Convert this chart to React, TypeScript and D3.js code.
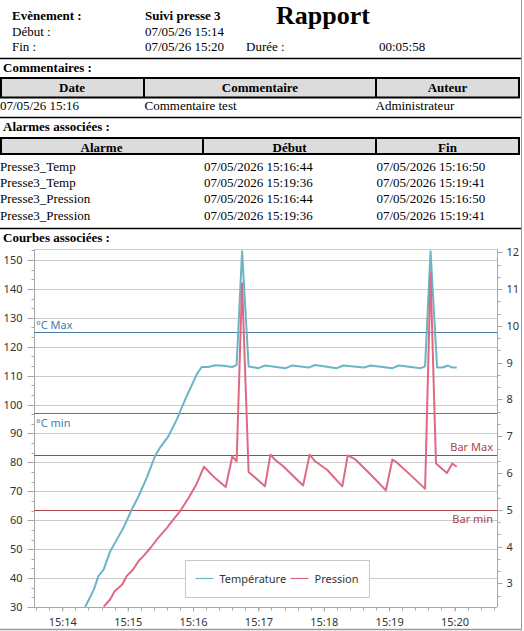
import { useEffect, useRef } from 'react';
import * as d3 from 'd3';

// Report day (07/05/26)
const DAY = '2026-05-07T';

// Header fields
const eventName = 'Suivi presse 3';
const startStamp = '07/05/26 15:14';
const endStamp = '07/05/26 15:20';
const duration = '00:05:58';

// Comments table
const commentDates = ['07/05/26 15:16'];
const commentTexts = ['Commentaire test'];
const commentAuthors = ['Administrateur'];

// Alarms table
const alarmNames = ['Presse3_Temp', 'Presse3_Temp', 'Presse3_Pression', 'Presse3_Pression'];
const alarmStarts = ['07/05/2026 15:16:44', '07/05/2026 15:19:36', '07/05/2026 15:16:44', '07/05/2026 15:19:36'];
const alarmEnds = ['07/05/2026 15:16:50', '07/05/2026 15:19:41', '07/05/2026 15:16:50', '07/05/2026 15:19:41'];

// Température (°C, left axis)
const tempTimes = [
  '15:14:21', '15:14:29', '15:14:33', '15:14:38', '15:14:44', '15:14:50', '15:14:56',
  '15:15:04', '15:15:10', '15:15:18', '15:15:25', '15:15:30', '15:15:37', '15:15:45',
  '15:15:54', '15:16:04', '15:16:08', '15:16:14', '15:16:20', '15:16:28', '15:16:36',
  '15:16:40', '15:16:45', '15:16:51', '15:17:00', '15:17:06', '15:17:25', '15:17:31',
  '15:17:46', '15:17:52', '15:18:12', '15:18:18', '15:18:37', '15:18:43', '15:19:03',
  '15:19:09', '15:19:29', '15:19:33', '15:19:38', '15:19:44', '15:19:49', '15:19:54',
  '15:19:58', '15:20:02',
];
const tempValues = [
  30.0, 36.1, 40.6, 43.0, 49.3, 53.3, 57.3,
  63.9, 68.3, 75.2, 82.1, 85.3, 88.8, 94.8,
  102.8, 110.9, 113.0, 113.0, 113.6, 113.4, 113.0,
  113.7, 153.0, 113.2, 112.6, 113.5, 112.6, 113.5,
  112.8, 113.7, 112.6, 113.5, 112.8, 113.5, 112.6,
  113.5, 112.6, 113.2, 153.0, 112.8, 112.8, 113.5,
  112.8, 112.8,
];

// Pression (bar, right axis)
const pressTimes = [
  '15:14:38', '15:14:44', '15:14:48', '15:14:55', '15:14:59', '15:15:05', '15:15:10',
  '15:15:14', '15:15:21', '15:15:28', '15:15:36', '15:15:42', '15:15:48', '15:15:56',
  '15:16:03', '15:16:10', '15:16:20', '15:16:30', '15:16:36', '15:16:40', '15:16:45',
  '15:16:51', '15:17:06', '15:17:11', '15:17:15', '15:17:23', '15:17:41', '15:17:47',
  '15:17:52', '15:18:03', '15:18:17', '15:18:22', '15:18:29', '15:18:43', '15:18:57',
  '15:19:03', '15:19:07', '15:19:21', '15:19:33', '15:19:38', '15:19:43', '15:19:53',
  '15:19:58', '15:20:02',
];
const pressValues = [
  2.37, 2.57, 2.79, 2.97, 3.2, 3.38, 3.61,
  3.73, 3.97, 4.24, 4.51, 4.74, 4.96, 5.33,
  5.69, 6.17, 5.87, 5.62, 6.45, 6.32, 11.16,
  6.03, 5.64, 6.5, 6.37, 6.18, 5.66, 6.5,
  6.32, 6.09, 5.64, 6.48, 6.37, 5.96, 5.53,
  6.37, 6.29, 5.91, 5.57, 11.43, 6.26, 6.0,
  6.26, 6.17,
];

// Limits
const tempLimitValues = [125, 97];
const tempLimitLabels = ['°C Max', '°C min'];
const pressLimitValues = [6.5, 5];
const pressLimitLabels = ['Bar Max', 'Bar min'];

// Axis ticks
const leftTicks = [30, 40, 50, 60, 70, 80, 90, 100, 110, 120, 130, 140, 150];
const rightTicks = [3, 4, 5, 6, 7, 8, 9, 10, 11, 12];
const seriesNames = ['Température', 'Pression'];

const W = 524;
const H = 631;
const plot = { left: 34, right: 497, top: 249, bottom: 607 };

const TEMP_COLOR = '#6bb5c6';
const PRESS_COLOR = '#de6a82';
const TEMP_LIMIT_COLOR = '#4a78a6';
const PRESS_LIMIT_COLOR = '#a8454b';
const AXIS_COLOR = '#a8a8a8';
const GRID_COLOR = '#cacaca';
const LABEL_COLOR = '#333';
const SANS = "'Noto Sans', 'DejaVu Sans', sans-serif";
const SERIF = "'Liberation Serif', 'Times New Roman', serif";

const parse = (t: string) => new Date(DAY + t);

function ChartArea() {
  const ref = useRef<SVGGElement>(null);

  useEffect(() => {
    if (!ref.current) return;
    const g = d3.select(ref.current);
    g.selectAll('*').remove();

    const x = d3
      .scaleTime()
      .domain([parse('15:13:34'), parse('15:20:39')])
      .range([plot.left, plot.right]);
    const yLeft = d3.scaleLinear().domain([30, 153.8]).range([plot.bottom, plot.top]);
    const yRight = d3.scaleLinear().domain([2.36, 12.09]).range([plot.bottom, plot.top]);

    // Horizontal grid from the left axis
    g.append('g')
      .selectAll('line')
      .data(leftTicks.slice(1))
      .enter()
      .append('line')
      .attr('x1', plot.left)
      .attr('x2', plot.right)
      .attr('y1', (d) => Math.round(yLeft(d)) + 0.5)
      .attr('y2', (d) => Math.round(yLeft(d)) + 0.5)
      .attr('stroke', GRID_COLOR)
      .attr('stroke-width', 1);

    // Plot top border
    g.append('line')
      .attr('x1', plot.left)
      .attr('x2', plot.right)
      .attr('y1', plot.top + 0.5)
      .attr('y2', plot.top + 0.5)
      .attr('stroke', GRID_COLOR);

    // Left axis
    const leftAxis = g
      .append('g')
      .attr('transform', `translate(${plot.left + 0.5},0)`)
      .call(d3.axisLeft(yLeft).tickValues(leftTicks).tickSize(7).tickPadding(5));
    leftAxis.selectAll('.tick').attr('transform', (d) => `translate(0,${Math.round(yLeft(d as number)) + 0.5})`);
    leftAxis
      .selectAll('.tick')
      .filter(() => false);
    leftAxis.selectAll('line').attr('stroke', AXIS_COLOR);
    leftAxis.select('.domain').attr('stroke', AXIS_COLOR).attr('d', `M0,${plot.top}V${plot.bottom}`);
    leftAxis.selectAll('text').attr('fill', LABEL_COLOR).attr('font-size', 11).attr('font-family', SANS);
    leftAxis
      .selectAll('.minor')
      .data(d3.range(9, 47).map((k) => (k * 10) / 3))
      .enter()
      .append('line')
      .attr('class', 'minor')
      .attr('x1', -3)
      .attr('x2', 0)
      .attr('y1', (d) => Math.round(yLeft(d)) + 0.5)
      .attr('y2', (d) => Math.round(yLeft(d)) + 0.5)
      .attr('stroke', AXIS_COLOR);

    // Right axis
    const rightAxis = g
      .append('g')
      .attr('transform', `translate(${plot.right + 0.5},0)`)
      .call(d3.axisRight(yRight).tickValues(rightTicks).tickSize(5).tickPadding(4));
    rightAxis.selectAll('.tick').attr('transform', (d) => `translate(0,${Math.round(yRight(d as number)) + 0.5})`);
    rightAxis.selectAll('line').attr('stroke', AXIS_COLOR);
    rightAxis.select('.domain').attr('stroke', AXIS_COLOR).attr('d', `M0,${plot.top}V${plot.bottom}`);
    rightAxis.selectAll('text').attr('fill', LABEL_COLOR).attr('font-size', 11).attr('font-family', SANS);
    rightAxis
      .selectAll('.minor')
      .data(d3.range(8, 37).map((k) => k / 3))
      .enter()
      .append('line')
      .attr('class', 'minor')
      .attr('x1', 0)
      .attr('x2', 3)
      .attr('y1', (d) => Math.round(yRight(d)) + 0.5)
      .attr('y2', (d) => Math.round(yRight(d)) + 0.5)
      .attr('stroke', AXIS_COLOR);

    // Bottom axis
    const [t0, t1] = x.domain();
    const bottomAxis = g
      .append('g')
      .attr('transform', `translate(0,${plot.bottom + 0.5})`)
      .call(
        d3
          .axisBottom(x)
          .ticks(d3.timeMinute.every(1))
          .tickFormat((d) => d3.timeFormat('%H:%M')(d as Date))
          .tickSize(4)
          .tickPadding(7)
      );
    bottomAxis.selectAll('line').attr('stroke', AXIS_COLOR);
    bottomAxis.select('.domain').attr('stroke', AXIS_COLOR).attr('d', `M${plot.left},0H${plot.right}`);
    bottomAxis.selectAll('text').attr('fill', LABEL_COLOR).attr('font-size', 11).attr('font-family', SANS);
    bottomAxis
      .selectAll('.minor')
      .data(d3.timeSecond.every(12)!.range(t0, t1))
      .enter()
      .append('line')
      .attr('class', 'minor')
      .attr('x1', (d) => Math.round(x(d)) + 0.5)
      .attr('x2', (d) => Math.round(x(d)) + 0.5)
      .attr('y1', 0)
      .attr('y2', 3)
      .attr('stroke', AXIS_COLOR);

    // Limit lines
    tempLimitValues.forEach((v, i) => {
      const y = Math.round(yLeft(v)) + 0.5;
      g.append('line')
        .attr('x1', plot.left)
        .attr('x2', plot.right)
        .attr('y1', y)
        .attr('y2', y)
        .attr('stroke', TEMP_LIMIT_COLOR)
        .attr('stroke-width', 1.2);
      g.append('text')
        .attr('x', plot.left + 2)
        .attr('y', i === 0 ? y - 4 : y + 13)
        .attr('fill', TEMP_LIMIT_COLOR)
        .attr('font-size', 11)
        .attr('font-family', SANS)
        .text(tempLimitLabels[i]);
    });
    pressLimitValues.forEach((v, i) => {
      const y = Math.round(yRight(v)) + 0.5;
      g.append('line')
        .attr('x1', plot.left)
        .attr('x2', plot.right)
        .attr('y1', y)
        .attr('y2', y)
        .attr('stroke', PRESS_LIMIT_COLOR)
        .attr('stroke-width', 1.2);
      g.append('text')
        .attr('x', plot.right - 4)
        .attr('y', i === 0 ? y - 5 : y + 12)
        .attr('text-anchor', 'end')
        .attr('fill', PRESS_LIMIT_COLOR)
        .attr('font-size', 11)
        .attr('font-family', SANS)
        .text(pressLimitLabels[i]);
    });

    // Curves
    g.append('clipPath')
      .attr('id', 'plot-clip')
      .append('rect')
      .attr('x', plot.left)
      .attr('y', plot.top)
      .attr('width', plot.right - plot.left)
      .attr('height', plot.bottom - plot.top);

    const tempData: [Date, number][] = tempTimes.map((t, i) => [parse(t), tempValues[i]]);
    const pressData: [Date, number][] = pressTimes.map((t, i) => [parse(t), pressValues[i]]);

    const tempLine = d3
      .line<[Date, number]>()
      .x((d) => x(d[0]))
      .y((d) => yLeft(d[1]));
    const pressLine = d3
      .line<[Date, number]>()
      .x((d) => x(d[0]))
      .y((d) => yRight(d[1]));

    const curves = g.append('g').attr('clip-path', 'url(#plot-clip)');
    curves
      .append('path')
      .datum(tempData)
      .attr('d', tempLine)
      .attr('fill', 'none')
      .attr('stroke', TEMP_COLOR)
      .attr('stroke-width', 2)
      .attr('stroke-linejoin', 'round');
    curves
      .append('path')
      .datum(pressData)
      .attr('d', pressLine)
      .attr('fill', 'none')
      .attr('stroke', PRESS_COLOR)
      .attr('stroke-width', 2)
      .attr('stroke-linejoin', 'round');

    // Legend
    const legend = g.append('g').attr('transform', 'translate(185.5,560.5)');
    legend
      .append('rect')
      .attr('width', 184)
      .attr('height', 37)
      .attr('fill', '#fff')
      .attr('stroke', '#c8c8c8');
    const items = [
      { name: seriesNames[0], color: TEMP_COLOR, x: 10 },
      { name: seriesNames[1], color: PRESS_COLOR, x: 105 },
    ];
    items.forEach((it) => {
      legend
        .append('line')
        .attr('x1', it.x)
        .attr('x2', it.x + 18)
        .attr('y1', 18)
        .attr('y2', 18)
        .attr('stroke', it.color)
        .attr('stroke-width', 1.2);
      legend
        .append('text')
        .attr('x', it.x + 24)
        .attr('y', 22)
        .attr('fill', LABEL_COLOR)
        .attr('font-size', 11)
        .attr('font-family', SANS)
        .text(it.name);
    });
  }, []);

  return <g ref={ref} />;
}

export default function App() {
  const commentCols = [0, 144, 376, 519];
  const alarmCols = [0, 203, 376, 519];
  const alarmRowY = (i: number) => 171 + i * 16.2;

  return (
    <svg
      width={W}
      height={H}
      viewBox={`0 0 ${W} ${H}`}
      style={{ position: 'absolute', left: 0, top: 0, display: 'block', background: '#fff' }}
    >
      <g fontFamily={SERIF} fontSize={13} fill="#000">
        {/* Header */}
        <text x={12} y={20} fontWeight="bold">Evènement :</text>
        <text x={145} y={20} fontWeight="bold">{eventName}</text>
        <text x={276} y={24} fontWeight="bold" fontSize={26}>Rapport</text>
        <text x={12} y={35.5}>Début :</text>
        <text x={145} y={35.5}>{startStamp}</text>
        <text x={12} y={51}>Fin :</text>
        <text x={145} y={51}>{endStamp}</text>
        <text x={246} y={51}>Durée :</text>
        <text x={379} y={51}>{duration}</text>
        <line x1={0} x2={521} y1={58.5} y2={58.5} stroke="#000" strokeWidth={1.5} />

        {/* Comments */}
        <text x={3} y={72} fontWeight="bold">Commentaires :</text>
        <rect x={1} y={78} width={518} height={19.5} fill="#dcdcdc" stroke="#000" strokeWidth={2} />
        {commentCols.slice(1, 3).map((cx) => (
          <line key={cx} x1={cx} x2={cx} y1={78} y2={97.5} stroke="#000" strokeWidth={2} />
        ))}
        {['Date', 'Commentaire', 'Auteur'].map((h, i) => (
          <text
            key={h}
            x={(commentCols[i] + commentCols[i + 1]) / 2}
            y={92}
            textAnchor="middle"
            fontWeight="bold"
          >
            {h}
          </text>
        ))}
        {commentDates.map((d, i) => (
          <g key={i}>
            <text x={0} y={110}>{d}</text>
            <text x={144.5} y={110}>{commentTexts[i]}</text>
            <text x={375.5} y={110}>{commentAuthors[i]}</text>
          </g>
        ))}
        <line x1={0} x2={521} y1={117.5} y2={117.5} stroke="#000" strokeWidth={1.5} />

        {/* Alarms */}
        <text x={3} y={131} fontWeight="bold">Alarmes associées :</text>
        <rect x={1} y={138} width={518} height={16} fill="#dcdcdc" stroke="#000" strokeWidth={2} />
        {alarmCols.slice(1, 3).map((cx) => (
          <line key={cx} x1={cx} x2={cx} y1={138} y2={154} stroke="#000" strokeWidth={2} />
        ))}
        {['Alarme', 'Début', 'Fin'].map((h, i) => (
          <text
            key={h}
            x={(alarmCols[i] + alarmCols[i + 1]) / 2}
            y={151.5}
            textAnchor="middle"
            fontWeight="bold"
          >
            {h}
          </text>
        ))}
        {alarmNames.map((n, i) => (
          <g key={i}>
            <text x={0} y={alarmRowY(i)}>{n}</text>
            <text x={204} y={alarmRowY(i)}>{alarmStarts[i]}</text>
            <text x={376.5} y={alarmRowY(i)}>{alarmEnds[i]}</text>
          </g>
        ))}
        <line x1={0} x2={521} y1={228.5} y2={228.5} stroke="#000" strokeWidth={1.5} />

        {/* Curves */}
        <text x={3} y={242} fontWeight="bold">Courbes associées :</text>
      </g>

      <ChartArea />

      {/* Window frame */}
      <line x1={521.5} x2={521.5} y1={0} y2={630} stroke="#9a9a9a" strokeWidth={1} />
      <line x1={0} x2={522} y1={629.5} y2={629.5} stroke="#9a9a9a" strokeWidth={1.5} />
    </svg>
  );
}
